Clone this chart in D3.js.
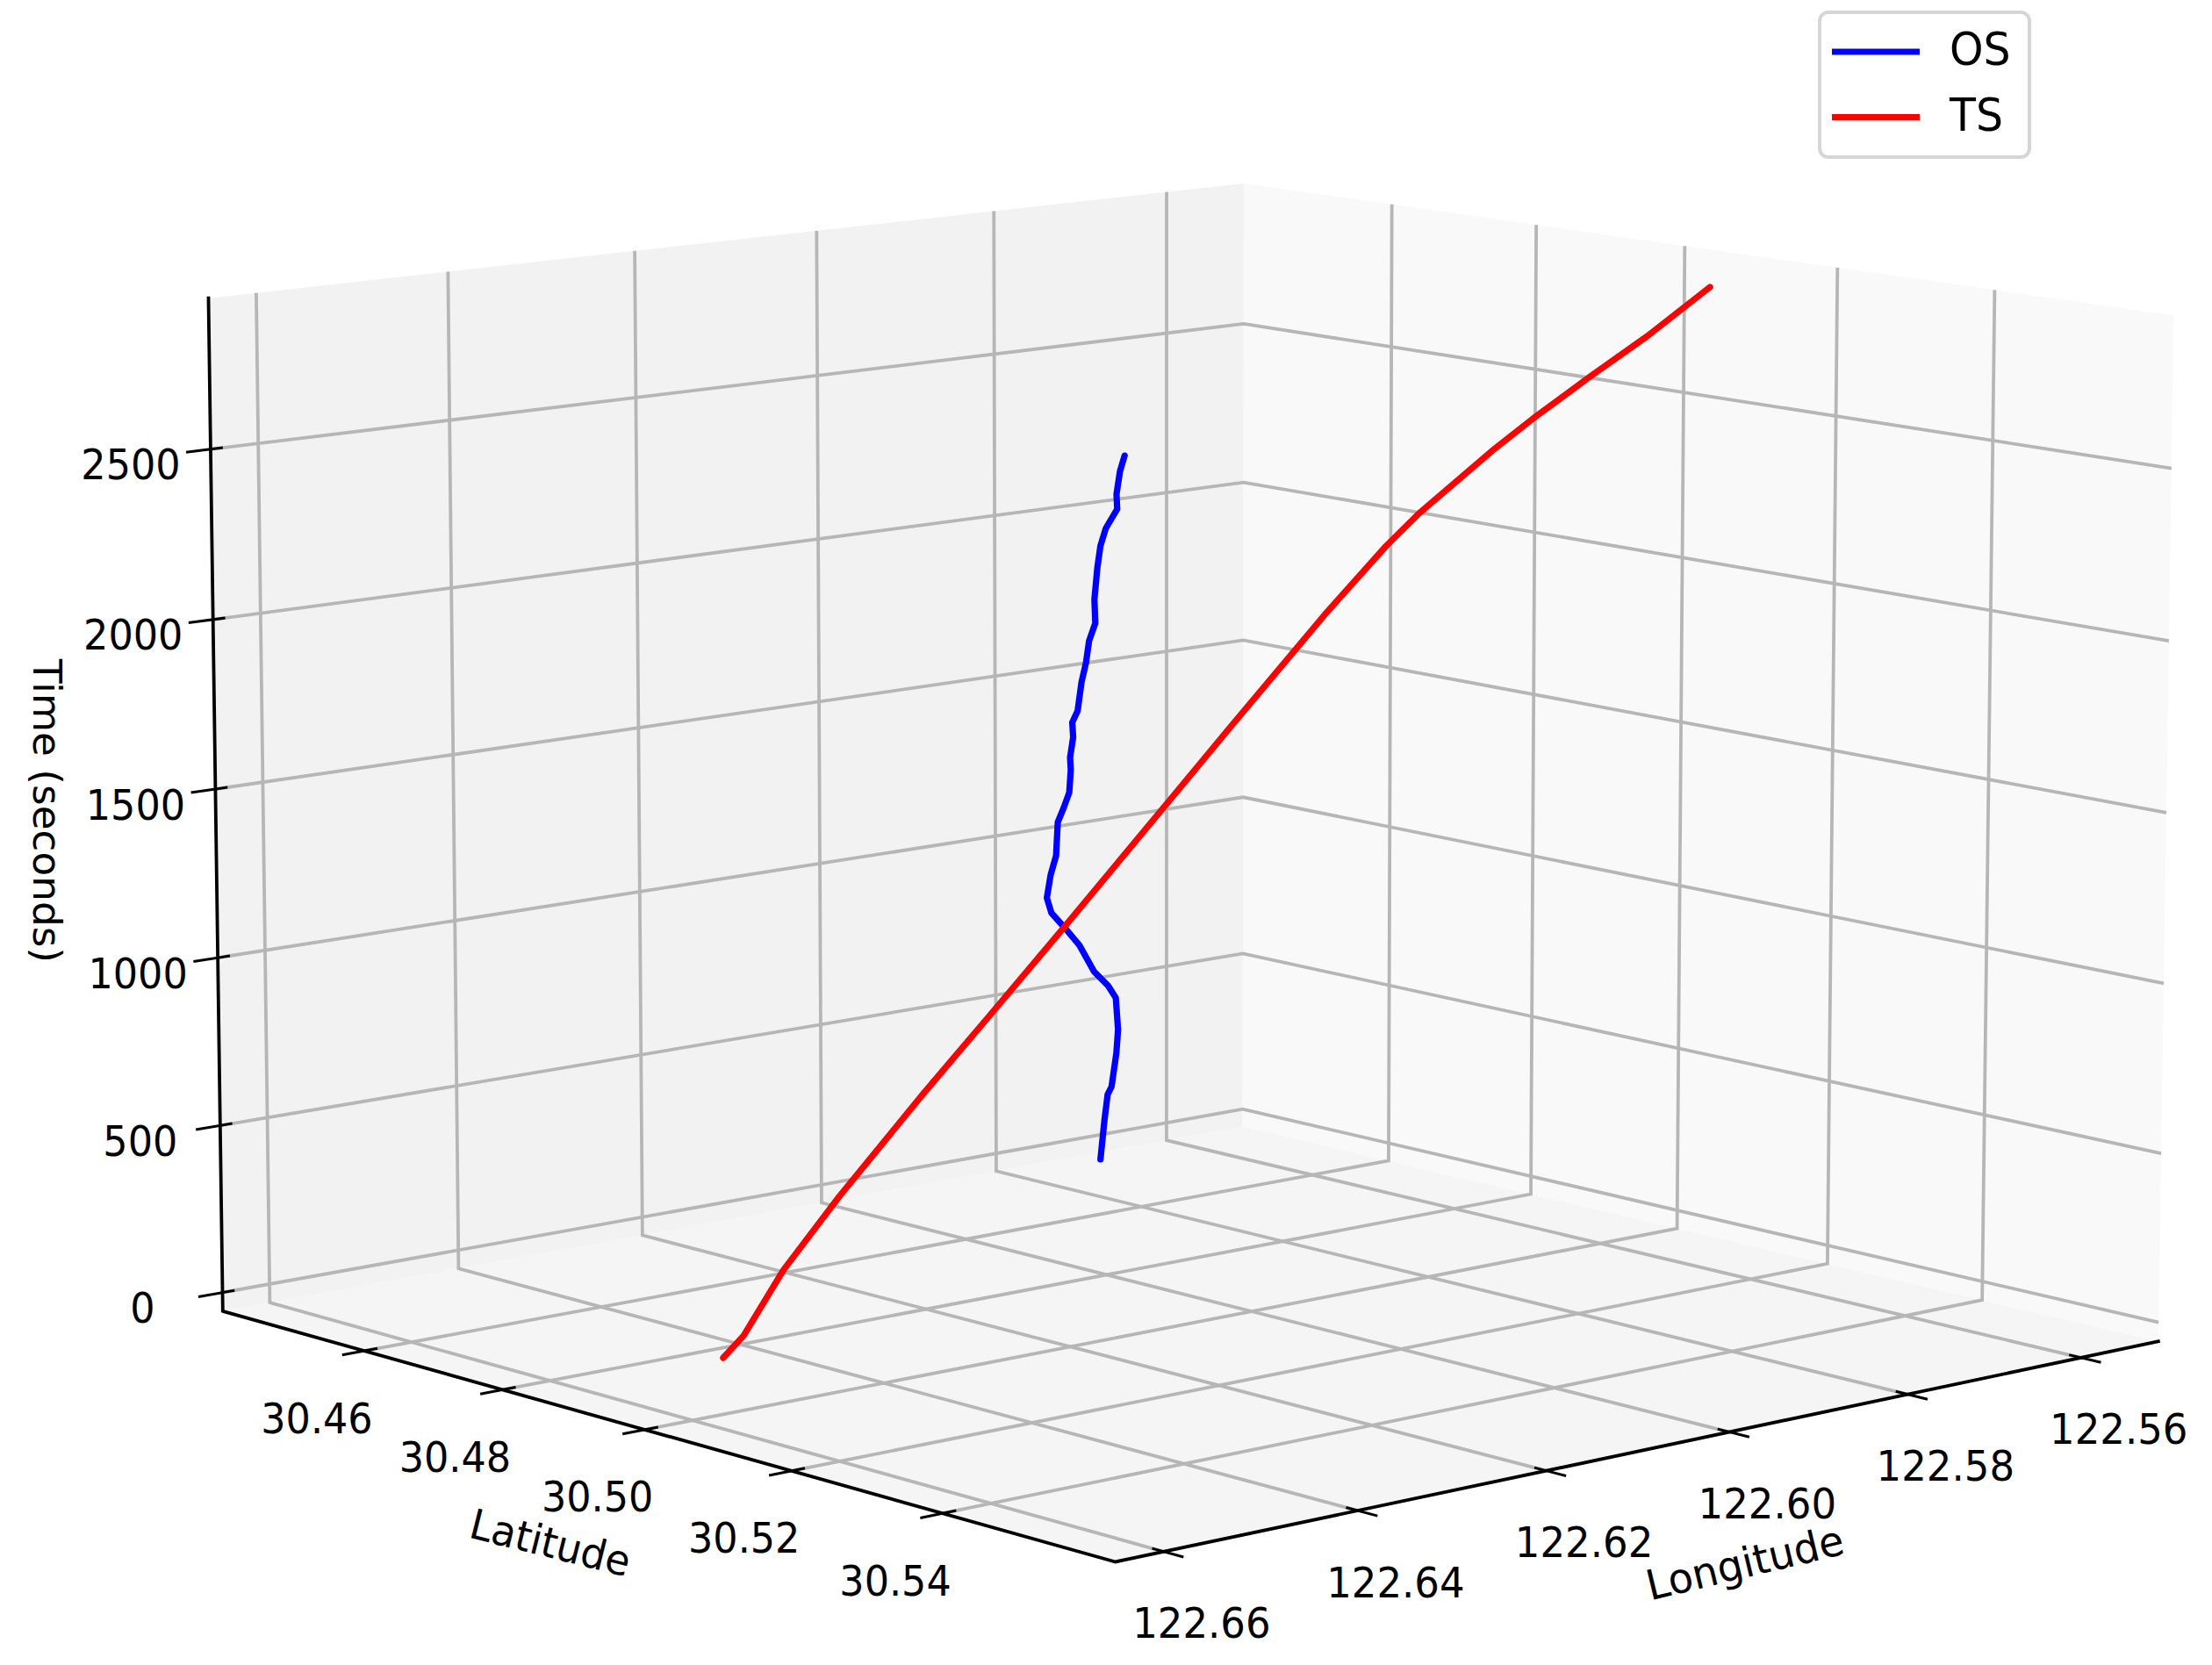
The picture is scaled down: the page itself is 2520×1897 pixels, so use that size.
<!DOCTYPE html><html><head><meta charset="utf-8"><script src="https://cdn.jsdelivr.net/npm/d3@7"></script>
<style>html,body{margin:0;background:#fff}svg{display:block}</style></head><body><svg id="c" width="2520" height="1897"></svg><script>
const lonTicks=[122.66,122.64,122.62,122.60,122.58,122.56];
const latTicks=[30.46,30.48,30.50,30.52,30.54];
const timeTicks=[0,500,1000,1500,2000,2500];
const tsLon=[122.6485,122.6468,122.6431,122.6408,122.6382,122.6309,122.6281,122.6251,122.6186,122.6081,122.6034,122.5942,122.5883,122.5853,122.5786,122.5750,122.5700,122.5650,122.5591];
const tsLat=[30.4889,30.4895,30.4902,30.4909,30.4916,30.4937,30.4947,30.4955,30.4974,30.4999,30.5010,30.5027,30.5038,30.5046,30.5065,30.5076,30.5092,30.5111,30.5126];
const tsTime=[0,59,236,331,435,709,816,922,1159,1530,1696,2003,2187,2275,2445,2530,2641,2753,2885];
const osLon=[122.5747,122.5744,122.5741,122.5738,122.5734,122.5732,122.5733,122.5738,122.5747,122.5756,122.5765,122.5775,122.5777,122.5775,122.5771,122.5769,122.5766,122.5762,122.5761,122.5761,122.5759,122.5760,122.5757,122.5754,122.5752,122.5750,122.5746,122.5747,122.5746,122.5744,122.5741,122.5735,122.5735,122.5735,122.5732];
const osLat=[30.4475,30.4477,30.4478,30.4480,30.4482,30.4482,30.4480,30.4475,30.4466,30.4456,30.4447,30.4439,30.4435,30.4438,30.4441,30.4441,30.4446,30.4449,30.4450,30.4449,30.4451,30.4451,30.4455,30.4457,30.4461,30.4463,30.4467,30.4467,30.4470,30.4472,30.4476,30.4485,30.4484,30.4489,30.4492];
const osTime=[0,121,203,228,332,406,505,543,587,669,721,771,817,889,949,1053,1100,1147,1218,1256,1319,1366,1402,1492,1553,1621,1676,1750,1849,1917,1972,2033,2079,2151,2200];
const camera=[-1.17976,0.84044,-0.01848,1.41567,0.10503,0.11872,-1.07748,1.28348,-0.07053,-0.08246,-0.01397];
const lonScale=d3.scaleLinear().domain([122.5509,122.6649]).range([0,1]);
const latScale=d3.scaleLinear().domain([30.4389,30.5621]).range([0,1]);
const timeScale=d3.scaleLinear().domain([-56,2941]).range([0,1]);
const [lon0,lon1]=lonScale.domain(),[lat0,lat1]=latScale.domain(),[t0,t1]=timeScale.domain();
function cube(u,v,w){const p=camera,d=p[8]*u+p[9]*v+p[10]*w+1;return[1000*(p[0]*u+p[1]*v+p[2]*w+p[3])/d,1000*(p[4]*u+p[5]*v+p[6]*w+p[7])/d];}
const proj=(lon,lat,t)=>cube(lonScale(lon),latScale(lat),timeScale(t));
const svg=d3.select('#c');const line=d3.line();
const poly=(pts,fill)=>svg.append('polygon').attr('points',pts.map(p=>proj(...p).join(',')).join(' ')).attr('fill',fill);
poly([[lon0,lat0,t0],[lon1,lat0,t0],[lon1,lat1,t0],[lon0,lat1,t0]],'#f5f5f5');
poly([[lon0,lat0,t0],[lon1,lat0,t0],[lon1,lat0,t1],[lon0,lat0,t1]],'#f2f2f2');
poly([[lon0,lat0,t0],[lon0,lat1,t0],[lon0,lat1,t1],[lon0,lat0,t1]],'#f9f9f9');
const grid=pts=>svg.append('path').attr('d',line(pts.map(p=>proj(...p)))).attr('fill','none').attr('stroke','#b6b6b6').attr('stroke-width',3.8);
lonTicks.forEach(l=>grid([[l,lat1,t0],[l,lat0,t0],[l,lat0,t1]]));
latTicks.forEach(l=>grid([[lon1,l,t0],[lon0,l,t0],[lon0,l,t1]]));
timeTicks.forEach(t=>grid([[lon1,lat0,t],[lon0,lat0,t],[lon0,lat1,t]]));
const axis=pts=>svg.append('path').attr('d',line(pts.map(p=>proj(...p)))).attr('fill','none').attr('stroke','#000').attr('stroke-width',3.8).attr('stroke-linecap','square');
axis([[lon1,lat0,t1],[lon1,lat0,t0],[lon1,lat1,t0],[lon0,lat1,t0]]);
const dLon=lon1-lon0,dLat=lat1-lat0;
const tick=pts=>svg.append('path').attr('d',line(pts.map(p=>proj(...p)))).attr('fill','none').attr('stroke','#000').attr('stroke-width',3);
const label=(txt,xy,fs,sx,sy,rot)=>svg.append('text').attr('transform',`translate(${xy[0]},${xy[1]}) rotate(${rot||0}) scale(${sx},${sy})`).attr('text-anchor','middle').attr('dominant-baseline','central').attr('font-family','DejaVu Sans').attr('font-size',fs).attr('fill','#000').text(txt);
const off=(p,dx,dy)=>[p[0]+dx,p[1]+dy];
lonTicks.forEach(l=>{tick([[l,lat1-0.012*dLat,t0],[l,lat1+0.02*dLat,t0]]);label(l.toFixed(2),off(proj(l,lat1,t0),43,82),45,1,1.08);});
latTicks.forEach(l=>{tick([[lon1-0.012*dLon,l,t0],[lon1+0.02*dLon,l,t0]]);label(l.toFixed(2),off(proj(lon1,l,t0),-54,77),44.5,1,1.08);});
timeTicks.forEach(t=>{tick([[lon1-0.011*dLon,lat0,t],[lon1+0.022*dLon,lat0,t]]);label(String(t),off(proj(lon1,lat0,t),-91,18),44.5,1,1.08);});
label('Latitude',[627,1758],44,1.03,1.08,14);
label('Longitude',[1988,1781],44,1.05,1.08,-13.5);
label('Time (seconds)',[53,924],44,1.03,1,90);
const series=[{name:'OS',color:'#0000ff',lon:osLon,lat:osLat,time:osTime},{name:'TS',color:'#ff0000',lon:tsLon,lat:tsLat,time:tsTime}];
series.forEach(s=>svg.append('path').attr('d',line(s.time.map((t,i)=>proj(s.lon[i],s.lat[i],t)))).attr('fill','none').attr('stroke',s.color).attr('stroke-width',7.2).attr('stroke-linejoin','round').attr('stroke-linecap','round'));
const lg=svg.append('g');
lg.append('rect').attr('x',2073).attr('y',14).attr('width',239).attr('height',165).attr('rx',10).attr('fill','#fff').attr('stroke','#d6d6d6').attr('stroke-width',4);
series.forEach((s,i)=>{const y=59+i*74.5;lg.append('line').attr('x1',2087).attr('x2',2187).attr('y1',y).attr('y2',y).attr('stroke',s.color).attr('stroke-width',7);
lg.append('text').attr('transform',`translate(2221,${y+15}) scale(1,1.07)`).attr('font-family','DejaVu Sans').attr('font-size',49).text(s.name);});
</script></body></html>
